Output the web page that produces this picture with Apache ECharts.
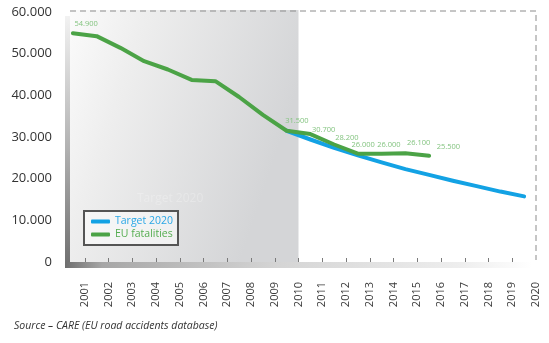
<!DOCTYPE html>
<html>
<head>
<meta charset="utf-8">
<script src="https://cdn.jsdelivr.net/npm/echarts@6/dist/echarts.min.js"></script>
<style>
html,body{margin:0;padding:0;background:#fff;}
#chart{width:549px;height:343px;}
</style>
</head>
<body>
<div id="chart"></div>
<script>
// ---- data ----
const years = ['2001','2002','2003','2004','2005','2006','2007','2008','2009','2010',
               '2011','2012','2013','2014','2015','2016','2017','2018','2019','2020'];
const tickLabels = [''].concat(years);
const fatalities = [54900, 54200, 51400, 48200, 46200, 43700, 43400, 39600, 35300, 31500,
                    30700, 28200, 26000, 26000, 26100, 25500];
const target = [null, null, null, null, null, null, null, null, null, 31500,
                29400, 27400, 25600, 23900, 22300, 20900, 19500, 18200, 16900, 15750];
const yTicks = [0, 10000, 20000, 30000, 40000, 50000, 60000];
const labelledYears = ['2001','2010','2011','2012','2013','2014','2015','2016'];
const seriesNames = ['Target 2020', 'EU fatalities'];
const sourceText = 'Source \u2013 CARE (EU road accidents database)';

// ---- styles ----
const FONT = 'Open Sans';
const GREEN = '#4ba346';
const BLUE = '#13a2e4';
const labelOffsets = {
  '2001': [2, -9], '2010': [-1, -9], '2011': [2, -4], '2012': [1.5, -6],
  '2013': [-6, -8], '2014': [-4, -8], '2015': [2, -10], '2016': [8, -8]
};

function fmt(v) { return v === 0 ? '0' : (v / 1000).toFixed(3); }

const greenData = fatalities.map(function (v, i) {
  const yr = years[i];
  const item = { value: v };
  if (labelledYears.indexOf(yr) >= 0) {
    const o = labelOffsets[yr];
    item.label = { show: true, position: [o[0], o[1]] };
  }
  return item;
});

const chart = echarts.init(document.getElementById('chart'), null, { renderer: 'canvas' });

chart.setOption({
  animation: false,
  backgroundColor: '#ffffff',
  textStyle: { fontFamily: FONT },
  grid: { left: 61, right: 13, top: 12, bottom: 81 },
  xAxis: [
    {
      type: 'category', data: years, boundaryGap: true, show: false
    },
    {
      type: 'category', data: tickLabels, boundaryGap: false, position: 'bottom',
      axisLine: { show: false },
      axisTick: {
        show: true, inside: true, length: 4,
        lineStyle: { color: '#7a7a7a', width: 1 },
        interval: function (idx) { return idx > 0 && idx < tickLabels.length - 1; }
      },
      axisLabel: {
        rotate: 90, margin: 20, color: '#3a3a3a', fontSize: 11, fontFamily: FONT,
        interval: 0
      },
      splitLine: { show: false }
    }
  ],
  yAxis: {
    type: 'value', min: yTicks[0], max: yTicks[yTicks.length - 1], interval: 10000,
    axisLine: { show: false }, axisTick: { show: false }, splitLine: { show: false },
    axisLabel: {
      margin: 9, color: '#333', fontSize: 13, fontFamily: FONT,
      formatter: function (v) { return fmt(v); }
    }
  },
  legend: {
    orient: 'vertical', left: 84, top: 211,
    data: [
      { name: seriesNames[0], textStyle: { color: '#2aa7e6' } },
      { name: seriesNames[1], textStyle: { color: '#55ad50' } }
    ],
    icon: 'roundRect', itemWidth: 19, itemHeight: 4, itemGap: 2,
    padding: [5, 5, 5, 7],
    borderColor: '#555', borderWidth: 2, borderRadius: 0,
    backgroundColor: 'rgba(255,255,255,0.55)',
    textStyle: { fontSize: 10.5, fontFamily: FONT }
  },
  series: [
    {
      name: seriesNames[0], type: 'line', xAxisIndex: 0, data: target,
      showSymbol: false, symbol: 'none', connectNulls: false,
      itemStyle: { color: BLUE },
      lineStyle: { color: BLUE, width: 4, cap: 'round', join: 'round' },
      z: 2
    },
    {
      name: seriesNames[1], type: 'line', xAxisIndex: 0, data: greenData,
      showSymbol: true, symbol: 'circle', symbolSize: 1,
      itemStyle: { color: GREEN },
      lineStyle: { color: GREEN, width: 4, cap: 'round', join: 'round' },
      label: {
        show: false, color: '#84c480', fontSize: 7.5, fontFamily: FONT,
        align: 'left', verticalAlign: 'middle',
        formatter: function (p) { return fmt(p.value); }
      },
      emphasis: { disabled: true },
      z: 3
    }
  ]
});

// ---- decorative frame computed from the axes ----
const xLeft = chart.convertToPixel({ xAxisIndex: 1 }, tickLabels[0]);
const x2010 = chart.convertToPixel({ xAxisIndex: 1 }, '2010');
const xRight = chart.convertToPixel({ xAxisIndex: 1 }, tickLabels[tickLabels.length - 1]);
const yTop = chart.convertToPixel({ yAxisIndex: 0 }, yTicks[yTicks.length - 1]);
const yBot = chart.convertToPixel({ yAxisIndex: 0 }, yTicks[0]);

chart.setOption({
  graphic: [
    {
      type: 'rect', z: -10,
      shape: { x: xLeft + 9, y: yTop - 2, width: x2010 - xLeft - 9, height: yBot - yTop + 2 },
      style: {
        fill: new echarts.graphic.LinearGradient(0, 0, 1, 0.3, [
          { offset: 0, color: '#fbfbfb' },
          { offset: 0.3, color: '#eeeeee' },
          { offset: 1, color: '#d4d5d7' }
        ])
      }
    },
    {
      type: 'text', z: -9, left: 137, top: 193,
      style: { text: 'Target 2020', fill: 'rgba(255,255,255,0.25)', font: '12px "Open Sans"' }
    },
    {
      type: 'rect', z: -8,
      shape: { x: xLeft + 4, y: yTop + 4, width: 5, height: yBot - yTop + 2 },
      style: {
        fill: new echarts.graphic.LinearGradient(0, 0, 0, 1, [
          { offset: 0, color: '#f2f2f2' },
          { offset: 0.5, color: '#b5b5b5' },
          { offset: 1, color: '#6e6e6e' }
        ])
      }
    },
    {
      type: 'rect', z: -8,
      shape: { x: xLeft + 4, y: yBot, width: xRight - xLeft - 8, height: 6 },
      style: {
        fill: new echarts.graphic.LinearGradient(0, 0, 1, 0, [
          { offset: 0, color: '#6e6e6e' },
          { offset: 0.08, color: '#a6a6a6' },
          { offset: 0.45, color: '#d4d4d4' },
          { offset: 0.85, color: '#eeeeee' },
          { offset: 1, color: '#ffffff' }
        ])
      }
    },
    {
      type: 'polyline', z: -5,
      shape: { points: [[xLeft + 9, yTop - 1], [xRight, yTop - 1], [xRight, yBot - 2]] },
      style: { stroke: '#8c8c8c', lineWidth: 1, lineDash: [6, 4], fill: null }
    },
    {
      type: 'text', left: 14, top: 321,
      style: { text: sourceText, fill: '#333', font: 'italic 10.5px "Open Sans"' }
    }
  ]
});
</script>
</body>
</html>
